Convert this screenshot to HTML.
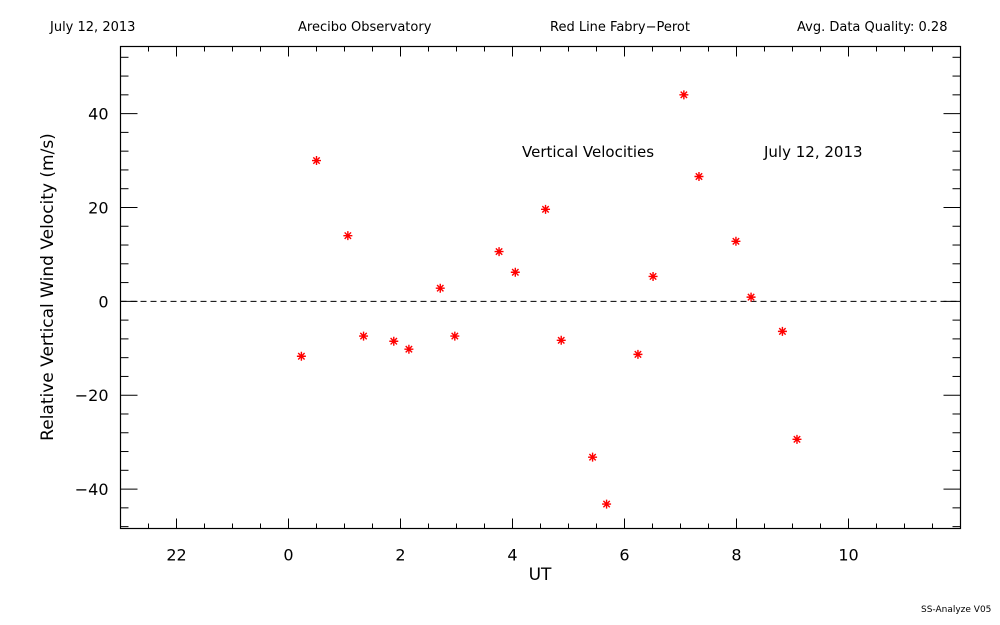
<!DOCTYPE html>
<html><head><meta charset="utf-8"><style>
html,body{margin:0;padding:0;background:#fff;}
svg{display:block;font-family:"DejaVu Sans","Liberation Sans",sans-serif;}
</style></head><body>
<svg id="chart" width="1000" height="625" viewBox="0 0 1000 625" xmlns="http://www.w3.org/2000/svg">
<rect width="1000" height="625" fill="#fff"/>
<text x="50" y="31" font-size="13">July 12, 2013</text>
<text x="298" y="31" font-size="13">Arecibo Observatory</text>
<text x="550" y="31" font-size="13">Red Line Fabry−Perot</text>
<text x="797" y="31" font-size="13">Avg. Data Quality: 0.28</text>
<text x="921" y="612" font-size="9">SS-Analyze V05</text>
<g id="plot"></g>
</svg>
<script>
const times = [0.23,0.50,1.06,1.34,1.88,2.15,2.71,2.97,3.76,4.05,4.59,4.87,5.43,5.68,6.24,6.51,7.06,7.33,7.99,8.26,8.82,9.08];
const velocities = [-11.7,30,14,-7.4,-8.5,-10.2,2.8,-7.4,10.6,6.2,19.6,-8.3,-33.2,-43.2,-11.3,5.3,44,26.6,12.8,0.9,-6.4,-29.4];
const xTickValues = [-2,0,2,4,6,8,10];
const xTickLabels = ["22","0","2","4","6","8","10"];
const yTickValues = [-40,-20,0,20,40];
const yTickLabels = ["−40","−20","0","20","40"];

const L=120.5,R=960.5,T=46.5,B=528.5;
const xMin=-3,xMax=12,yMin=-48.4,yMax=54.3;
const xs=v=>L+(v-xMin)/(xMax-xMin)*(R-L);
const ys=v=>B-(v-yMin)/(yMax-yMin)*(B-T);
const NS="http://www.w3.org/2000/svg";
const g=document.getElementById('plot');
function mk(tag,attrs){const e=document.createElementNS(NS,tag);for(const k in attrs)e.setAttribute(k,attrs[k]);g.appendChild(e);return e;}

let frame=mk('rect',{x:L,y:T,width:R-L,height:B-T,fill:'none',stroke:'#000','stroke-width':1.2});



for(let v=xMin+0.5;v<xMax;v+=0.5){
  const major=xTickValues.includes(v);
  const len=major?10:5;
  let t=mk('line',{x1:xs(v),x2:xs(v),y1:B,y2:B-len,stroke:'#000'});
  
  
  let t2=mk('line',{x1:xs(v),x2:xs(v),y1:T,y2:T+len,stroke:'#000'});
  
  
}
xTickValues.forEach((v,i)=>{
  let t=mk('text',{x:xs(v),y:B+32,'font-size':16,'text-anchor':'middle'});
  t.textContent=xTickLabels[i];
  
  
});
for(let v=-48;v<=52;v+=4){
  if(ys(v)>B||ys(v)<T)continue;
  const major=yTickValues.includes(v);
  const len=major?17:8;
  let t=mk('line',{x1:L,x2:L+len,y1:ys(v),y2:ys(v),stroke:'#000'});
  
  
  let t2=mk('line',{x1:R,x2:R-len,y1:ys(v),y2:ys(v),stroke:'#000'});
  
  
}
yTickValues.forEach((v,i)=>{
  let t=mk('text',{x:L-12,y:ys(v)+6,'font-size':16,'text-anchor':'end'});
  t.textContent=yTickLabels[i];
  
  
});
let zl=mk('line',{x1:L,x2:R,y1:ys(0),y2:ys(0),stroke:'#000','stroke-dasharray':'6,4'});



let xt=mk('text',{x:540,y:580,'font-size':17,'text-anchor':'middle'});
xt.textContent='UT';


let yt=mk('text',{x:0,y:0,'font-size':17,'text-anchor':'middle',transform:'translate(53,287) rotate(-90)'});
yt.textContent='Relative Vertical Wind Velocity (m/s)';


let a1=mk('text',{x:522,y:157,'font-size':15});
a1.textContent='Vertical Velocities';


let a2=mk('text',{x:764,y:157,'font-size':15});
a2.textContent='July 12, 2013';



times.forEach((tv,i)=>{
  const cx=xs(tv),cy=ys(velocities[i]),r=4.5,d=3.2;
  let p=mk('path',{d:`M${cx-r},${cy}H${cx+r}M${cx},${cy-r}V${cy+r}M${cx-d},${cy-d}L${cx+d},${cy+d}M${cx-d},${cy+d}L${cx+d},${cy-d}`,stroke:'#f00','stroke-width':1.4,fill:'none'});
  
  
});
</script>
</body></html>
